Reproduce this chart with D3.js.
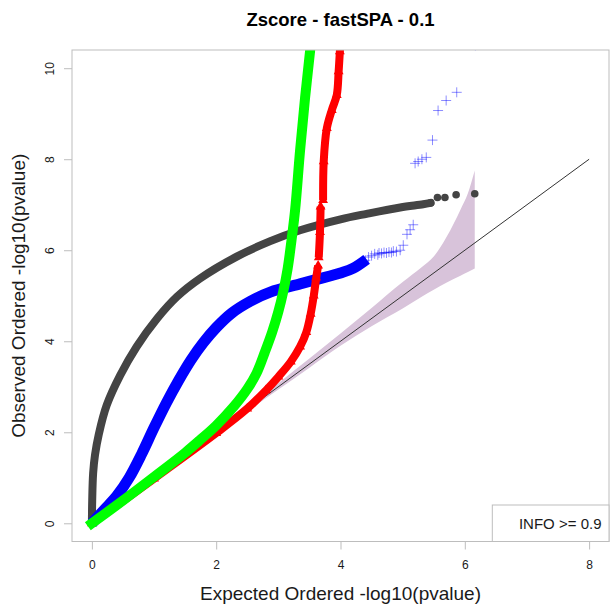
<!DOCTYPE html>
<html><head><meta charset="utf-8">
<script src="https://cdn.jsdelivr.net/npm/d3@7"></script>
<style>body{margin:0;background:#fff}svg{display:block;font-family:"Liberation Sans",Arial,Helvetica,sans-serif}</style>
</head><body>
<svg id="chart" width="610" height="606"></svg>
<script>
// ---- data ----
const chartTitle = "Zscore - fastSPA - 0.1";
const xLabel = "Expected Ordered -log10(pvalue)";
const yLabel = "Observed Ordered -log10(pvalue)";
const legendLabel = "INFO >= 0.9";
const xTicks = [0, 2, 4, 6, 8];
const yTicks = [0, 2, 4, 6, 8, 10];
const xDomain = [-0.32, 8.32];
const yDomain = [-0.4, 10.4];
const nullLine = [[0, 0], [8, 8]];

const ciX     = [0,    2,    3,    3.5,  4.0,  4.5,  5.0,  5.3,  5.5,  5.71, 5.93, 6.05, 6.16];
const ciUpper = [0.02, 2.04, 3.08, 3.62, 4.17, 4.73, 5.30, 5.62, 5.86, 6.30, 6.89, 7.25, 7.75];
const ciLower = [0,    1.97, 2.94, 3.42, 3.90, 4.33, 4.72, 4.97, 5.13, 5.29, 5.44, 5.52, 5.60];

const grayBand = [[0,0],[0.005,0.5],[0.02,1.1],[0.05,1.5],[0.11,1.95],[0.24,2.6],[0.455,3.25],
  [0.72,3.88],[1.05,4.5],[1.37,4.98],[1.74,5.38],[2.33,5.86],[2.87,6.2],[3.35,6.44],
  [4.0,6.68],[4.42,6.8],[4.96,6.94],[5.33,7.01],[5.45,7.04]];
const grayTail = [[5.56,7.16],[5.68,7.16],[5.86,7.22],[6.16,7.24]];

const blueBand = [[0,0],[0.2,0.3],[0.4,0.6],[0.6,1.0],[0.8,1.52],[1.0,2.1],[1.2,2.65],[1.4,3.15],
  [1.6,3.6],[1.8,3.98],[2.0,4.3],[2.25,4.62],[2.55,4.88],[2.87,5.08],[3.35,5.26],[3.62,5.36],
  [4.0,5.5],[4.2,5.6],[4.42,5.8]];
const blueTail = [[4.4,5.78],[4.45,5.85],[4.5,5.88],[4.55,5.92],[4.6,5.9],[4.62,5.94],[4.66,5.93],
  [4.7,5.95],[4.74,5.94],[4.78,5.96],[4.82,5.95],[4.85,5.98],[4.9,5.97],[4.96,6.0],
  [5.01,6.11],[5.07,6.35],[5.12,6.45],[5.17,6.56],[5.20,7.91],[5.25,7.95],[5.31,8.0],[5.38,8.04],
  [5.48,8.42],[5.57,9.07],[5.70,9.29],[5.87,9.47],[6.17,10.5]];

const redSegments = [
  [[0,0],[1,0.98],[2,1.98],[2.5,2.52],[2.8,2.92],[3.0,3.22],[3.2,3.55],[3.35,3.88],[3.45,4.2],
   [3.52,4.6],[3.57,5.0],[3.61,5.4],[3.64,5.66]],
  [[3.65,5.84],[3.67,6.4],[3.68,6.96]],
  [[3.72,7.1],[3.73,7.95],[3.78,8.68],[3.86,9.08],[3.94,9.41],[3.97,9.93],[3.99,10.37],[4.0,10.6]]
];

const greenBand = [[0,0],[0.5,0.5],[1.0,1.02],[1.5,1.55],[1.74,1.83],[2.0,2.15],[2.28,2.56],
  [2.5,2.95],[2.65,3.30],[2.78,3.75],[2.9,4.2],[3.0,4.65],[3.08,5.1],[3.15,5.6],[3.21,6.2],
  [3.27,6.89],[3.35,8.2],[3.43,9.35],[3.51,10.37],[3.53,10.7]];

// ---- layout ----
const svg = d3.select("#chart");
const pLeft = 72, pRight = 609, pTop = 50, pBottom = 541.5;
const x = d3.scaleLinear().domain(xDomain).range([pLeft, pRight]);
const y = d3.scaleLinear().domain(yDomain).range([pBottom, pTop]);
const borderCol = "#bdbdbd";
const textCol = "#1a1a1a";

svg.append("defs").append("clipPath").attr("id", "plotclip")
  .append("rect").attr("x", pLeft).attr("y", pTop).attr("width", pRight - pLeft).attr("height", pBottom - pTop);

// title
svg.append("text").attr("x", (pLeft + pRight) / 2).attr("y", 26)
  .attr("text-anchor", "middle").attr("font-weight", "bold").attr("font-size", 18.5)
  .attr("fill", "#000").text(chartTitle);

// axes
const xAxis = d3.axisBottom(x).tickValues(xTicks).tickSize(8).tickPadding(11).tickFormat(d3.format("d"));
const gx = svg.append("g").attr("transform", `translate(0,${pBottom})`).call(xAxis);
gx.select(".domain").remove();
gx.selectAll(".tick line").attr("stroke", borderCol);
gx.selectAll(".tick text").attr("font-size", 12).attr("fill", textCol).attr("font-family", null);

const yAxis = d3.axisLeft(y).tickValues(yTicks).tickSize(8).tickPadding(0).tickFormat(d3.format("d"));
const gy = svg.append("g").attr("transform", `translate(${pLeft},0)`).call(yAxis);
gy.select(".domain").remove();
gy.selectAll(".tick line").attr("stroke", borderCol);
gy.selectAll(".tick text").attr("font-size", 12).attr("fill", textCol).attr("font-family", null)
  .attr("x", null).attr("dy", null).attr("text-anchor", "middle")
  .attr("transform", "translate(-18.5,0) rotate(-90)");

// axis labels
svg.append("text").attr("x", (pLeft + pRight) / 2).attr("y", 600).attr("text-anchor", "middle")
  .attr("font-size", 19).attr("fill", textCol).text(xLabel);
svg.append("text").attr("transform", `translate(25,${(pTop + pBottom) / 2}) rotate(-90)`)
  .attr("text-anchor", "middle").attr("font-size", 19).attr("fill", textCol).text(yLabel);

const plot = svg.append("g").attr("clip-path", "url(#plotclip)");

// confidence band
const ciData = ciX.map((v, i) => ({x: v, lo: ciLower[i], hi: ciUpper[i]}));
plot.append("path").datum(ciData)
  .attr("d", d3.area().x(d => x(d.x)).y0(d => y(d.lo)).y1(d => y(d.hi)).curve(d3.curveMonotoneX))
  .attr("fill", "#d8c3da");

// null line
plot.append("path").datum(nullLine)
  .attr("d", d3.line().x(d => x(d[0])).y(d => y(d[1])))
  .attr("stroke", "#333").attr("stroke-width", 1).attr("fill", "none");

const line = d3.line().x(d => x(d[0])).y(d => y(d[1])).curve(d3.curveCatmullRom.alpha(0.5));

// gray series
plot.append("path").datum(grayBand).attr("d", line)
  .attr("stroke", "#444").attr("stroke-width", 8).attr("fill", "none").attr("stroke-linecap", "round");
plot.selectAll(".gdot").data(grayTail.concat(grayBand.slice(-1))).join("circle")
  .attr("cx", d => x(d[0])).attr("cy", d => y(d[1])).attr("r", 3.8).attr("fill", "#444");

// blue series
plot.append("path").datum(blueBand).attr("d", line)
  .attr("stroke", "#0000ff").attr("stroke-width", 11).attr("fill", "none").attr("stroke-linecap", "butt");
plot.selectAll(".bplus").data(blueTail).join("path")
  .attr("transform", d => `translate(${x(d[0])},${y(d[1])})`)
  .attr("d", "M-5,0H5M0,-5V5")
  .attr("stroke", "rgba(0,0,255,0.45)").attr("stroke-width", 1).attr("fill", "none");

// red series
const tri = d3.symbol().type(d3.symbolTriangle).size(42);
redSegments.forEach(seg => {
  plot.append("path").datum(seg).attr("d", line)
    .attr("stroke", "#ff0000").attr("stroke-width", 8).attr("fill", "none").attr("stroke-linecap", "butt");
  plot.append("g").selectAll("path").data(seg).join("path")
    .attr("transform", d => `translate(${x(d[0])},${y(d[1])})`)
    .attr("d", tri).attr("fill", "#ff0000");
});

// green series
plot.append("path").datum(greenBand).attr("d", line)
  .attr("stroke", "#00ff00").attr("stroke-width", 10).attr("fill", "none").attr("stroke-linecap", "square");

// plot border
svg.append("rect").attr("x", pLeft).attr("y", pTop).attr("width", pRight - pLeft).attr("height", pBottom - pTop)
  .attr("fill", "none").attr("stroke", borderCol).attr("stroke-width", 1);

// legend
svg.append("rect").attr("x", 492.3).attr("y", 505).attr("width", pRight - 492.3).attr("height", pBottom - 505)
  .attr("fill", "#fff").attr("stroke", borderCol).attr("stroke-width", 1);
svg.append("text").attr("x", 601.5).attr("y", 529).attr("text-anchor", "end")
  .attr("font-size", 15).attr("fill", textCol).text(legendLabel);
</script>
</body></html>
